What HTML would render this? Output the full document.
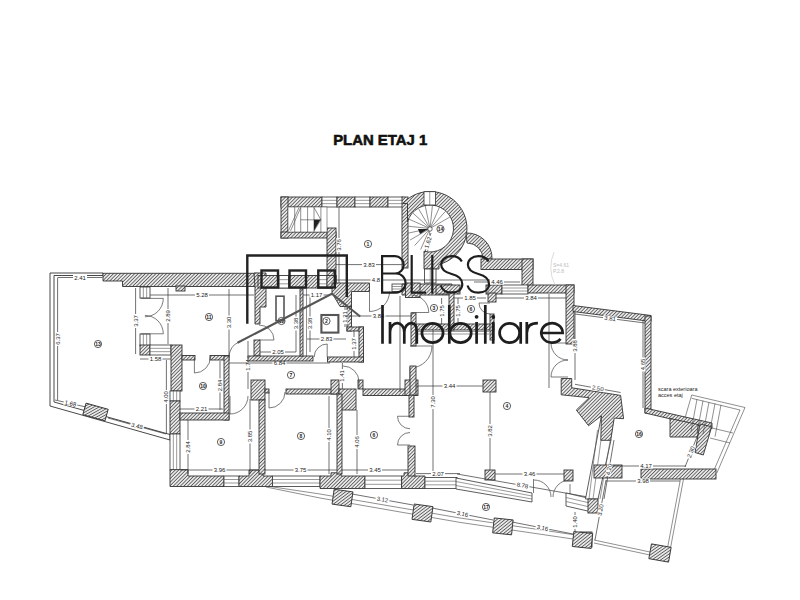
<!DOCTYPE html>
<html><head><meta charset="utf-8"><style>
html,body{margin:0;padding:0;background:#fff;}
svg{display:block;}
.w{fill:url(#h);stroke:#333;stroke-width:0.9;}
.win{fill:#fff;stroke:#333;stroke-width:0.8;}
.wl{stroke:#555;stroke-width:0.6;}
.ln{stroke:#444;stroke-width:0.6;fill:none;}
.dm{stroke:#333;stroke-width:0.7;}
.dr{stroke:#444;stroke-width:0.7;fill:none;}
.dt{font-family:"Liberation Sans",sans-serif;font-size:6px;fill:#222;text-anchor:middle;}
.lc{fill:#fff;stroke:#333;stroke-width:0.8;}
.lt{font-family:"Liberation Sans",sans-serif;font-size:5px;font-weight:bold;fill:#222;text-anchor:middle;}
.tx{font-family:"Liberation Sans",sans-serif;font-size:5.5px;fill:#222;}
.fx{font-family:"Liberation Sans",sans-serif;font-size:5px;fill:#bbb;}
.title{font-family:"Liberation Sans",sans-serif;font-weight:bold;font-size:15px;fill:#111;stroke:#111;stroke-width:0.6;}
</style></head><body>
<svg width="800" height="600" viewBox="0 0 800 600">
<defs><pattern id="h" width="2.5" height="2.5" patternUnits="userSpaceOnUse" patternTransform="rotate(45)"><rect width="2.5" height="2.5" fill="#fff"/><line x1="1.25" y1="0" x2="1.25" y2="2.5" stroke="#5a5a5a" stroke-width="1.05"/></pattern></defs>
<rect width="800" height="600" fill="#fff"/>
<text x="333.2" y="145" class="title" textLength="94" lengthAdjust="spacingAndGlyphs">PLAN ETAJ 1</text>
<rect x="281" y="197" width="41" height="10" class="w"/>
<rect x="322" y="197" width="15" height="10" class="win"/>
<line x1="322" y1="200.33" x2="337" y2="200.33" class="wl"/>
<line x1="322" y1="203.67" x2="337" y2="203.67" class="wl"/>
<rect x="337" y="197" width="18" height="10" class="w"/>
<rect x="355" y="197" width="15" height="10" class="win"/>
<line x1="355" y1="200.33" x2="370" y2="200.33" class="wl"/>
<line x1="355" y1="203.67" x2="370" y2="203.67" class="wl"/>
<rect x="370" y="197" width="18" height="10" class="w"/>
<rect x="388" y="197" width="15" height="10" class="win"/>
<line x1="388" y1="200.33" x2="403" y2="200.33" class="wl"/>
<line x1="388" y1="203.67" x2="403" y2="203.67" class="wl"/>
<rect x="281" y="197" width="7" height="41" class="w"/>
<rect x="281" y="232" width="55" height="6" class="w"/>
<rect x="327" y="228" width="9" height="55" class="w"/>
<rect x="402" y="197" width="6" height="71" class="w"/>
<rect x="288" y="207" width="39" height="25" fill="#fff" stroke="#555" stroke-width="0.6"/>
<line x1="294.7" y1="207" x2="294.7" y2="232" class="ln"/>
<line x1="300.7" y1="207" x2="300.7" y2="232" class="ln"/>
<line x1="307.6" y1="207" x2="307.6" y2="232" class="ln"/>
<line x1="314" y1="207" x2="314" y2="232" class="ln"/>
<line x1="320.9" y1="207" x2="320.9" y2="232" class="ln"/>
<line x1="300.7" y1="219.8" x2="320.9" y2="219.8" class="ln"/>
<polyline points="288.5,230.5 299,207.5" class="ln"/>
<polyline points="290.5,231 300.5,208" class="ln"/>
<polygon points="314,219.8 320.4,219.8 314,230.8" fill="#222"/>
<polyline points="314,207.5 320.9,219.8 314,231" class="ln"/>
<circle cx="368" cy="244" r="3.6" class="lc"/><text x="368" y="245.7" class="lt">1</text>
<line x1="339" y1="207" x2="339" y2="283" class="dm"/>
<g transform="translate(339.00 245.00) rotate(-90.0)"><rect x="-7.0" y="-2.6" width="14.0" height="5.2" fill="#fff"/><text x="0" y="2" class="dt">3.76</text></g>
<line x1="336" y1="264.6" x2="402" y2="264.6" class="dm"/>
<g transform="translate(369.00 264.60) rotate(0.0)"><rect x="-7.0" y="-2.6" width="14.0" height="5.2" fill="#fff"/><text x="0" y="2" class="dt">3.83</text></g>
<path d="M402.7,203.5 A37,37 0 1 1 439,264.4 L439,269 L424,269 L424,251.2 A23.5,23.5 0 1 0 407.5,221.7 L407.5,203.5 Z" class="w"/>
<rect x="424" y="191.7" width="11.5" height="13.3" class="win"/>
<line x1="429.75" y1="191.7" x2="429.75" y2="205" class="wl"/>
<rect x="424.5" y="269" width="11.5" height="14" class="win"/>
<line x1="430.25" y1="269" x2="430.25" y2="283" class="wl"/>
<line x1="430" y1="228.5" x2="427.6" y2="251.37" class="ln"/>
<line x1="430" y1="228.5" x2="420.65" y2="249.51" class="ln"/>
<line x1="430" y1="228.5" x2="414.61" y2="245.59" class="ln"/>
<line x1="430" y1="228.5" x2="410.08" y2="240.0" class="ln"/>
<line x1="430" y1="228.5" x2="407.5" y2="233.28" class="ln"/>
<line x1="430" y1="228.5" x2="407.13" y2="226.1" class="ln"/>
<line x1="430" y1="228.5" x2="408.99" y2="219.15" class="ln"/>
<line x1="430" y1="228.5" x2="412.91" y2="213.11" class="ln"/>
<line x1="430" y1="228.5" x2="418.5" y2="208.58" class="ln"/>
<line x1="430" y1="228.5" x2="425.22" y2="206.0" class="ln"/>
<line x1="430" y1="228.5" x2="432.4" y2="205.63" class="ln"/>
<line x1="430" y1="228.5" x2="439.35" y2="207.49" class="ln"/>
<line x1="430" y1="228.5" x2="445.39" y2="211.41" class="ln"/>
<line x1="430" y1="228.5" x2="449.92" y2="217.0" class="ln"/>
<circle cx="430" cy="229" r="2.2" fill="#fff" stroke="#333" stroke-width="0.7"/>
<polygon points="418,229 428,229 420,234" fill="#222"/>
<circle cx="440.5" cy="229" r="3.6" class="lc"/><text x="440.5" y="230.7" class="lt">14</text>
<line x1="431" y1="233" x2="425" y2="252" class="dm"/>
<g transform="translate(428.00 242.50) rotate(287.5)"><rect x="-7.0" y="-2.6" width="14.0" height="5.2" fill="#fff"/><text x="0" y="2" class="dt">1.62</text></g>
<path d="M466,233 A25,25 0 0 1 492,259 L483,259 A16,16 0 0 0 467,243 Z" class="w"/>
<rect x="481" y="259" width="52" height="10.5" class="w"/>
<rect x="522" y="259" width="11" height="27" class="w"/>
<path d="M50,273 L103,273 L103,275.5 L54,275.5 L54,402 L170,434.5 L170,440 L50,406 Z" fill="#fff" stroke="#333" stroke-width="0.9"/>
<polygon points="103,273.3 258,273.3 258,286.5 122.5,286.5 122.5,281 103,281" class="w"/>
<rect x="176" y="286" width="9" height="5" class="w"/>
<polygon points="254,273 266,273 266,307 260,307 260,324 255,324 255,287" class="w"/>
<rect x="258" y="275.5" width="78" height="12.5" class="w"/>
<rect x="279" y="275.5" width="9.5" height="12.5" class="win"/>
<line x1="279" y1="279.67" x2="288.5" y2="279.67" class="wl"/>
<line x1="279" y1="283.83" x2="288.5" y2="283.83" class="wl"/>
<rect x="318" y="275.5" width="9" height="12.5" class="win"/>
<line x1="318" y1="279.67" x2="327" y2="279.67" class="wl"/>
<line x1="318" y1="283.83" x2="327" y2="283.83" class="wl"/>
<rect x="327" y="275.5" width="9" height="12.5" class="w"/>
<polygon points="332,283 369.5,283 369.5,291.5 351.5,291.5 351.5,306.5 340,306.5 332,293" class="w"/>
<rect x="347" y="306.5" width="4.5" height="24.5" class="w"/>
<rect x="347" y="327" width="16.5" height="4" class="w"/>
<rect x="359" y="327" width="4.5" height="35" class="w"/>
<rect x="327.5" y="357" width="36.0" height="5" class="w"/>
<rect x="392" y="284" width="13.5" height="7.5" class="win"/>
<line x1="392" y1="286.50" x2="405.5" y2="286.50" class="wl"/>
<line x1="392" y1="289.00" x2="405.5" y2="289.00" class="wl"/>
<polygon points="402,284 452,284 452,295 402,295" class="w"/>
<rect x="405.5" y="283" width="14.5" height="14.5" class="w"/>
<rect x="436" y="285" width="24" height="9" class="w"/>
<rect x="486" y="285" width="16" height="9" class="w"/>
<rect x="502" y="285" width="26" height="9" class="win"/>
<line x1="502" y1="288.00" x2="528" y2="288.00" class="wl"/>
<line x1="502" y1="291.00" x2="528" y2="291.00" class="wl"/>
<rect x="528" y="285" width="46" height="8" class="w"/>
<rect x="488" y="293" width="8" height="9" class="w"/>
<rect x="566" y="285" width="8" height="59" class="w"/>
<rect x="84.0" y="406.0" width="23" height="12" class="w" transform="rotate(15.6 95.5 412)"/>
<rect x="140" y="287" width="10" height="11" class="win"/>
<line x1="143.33" y1="287" x2="143.33" y2="298" class="wl"/>
<line x1="146.67" y1="287" x2="146.67" y2="298" class="wl"/>
<rect x="140" y="334" width="10" height="12" class="win"/>
<line x1="143.33" y1="334" x2="143.33" y2="346" class="wl"/>
<line x1="146.67" y1="334" x2="146.67" y2="346" class="wl"/>
<rect x="140" y="345" width="10" height="10" class="w"/>
<rect x="150" y="345" width="21" height="10" class="win"/>
<line x1="150" y1="348.33" x2="171" y2="348.33" class="wl"/>
<line x1="150" y1="351.67" x2="171" y2="351.67" class="wl"/>
<path d="M144.90,316.80 A18.4,18.4 0 0 0 163.30,298.40" class="dr"/>
<path d="M144.90,315.40 A18.4,18.4 0 0 1 163.30,333.80" class="dr"/>
<line x1="140.6" y1="298.4" x2="163.3" y2="298.4" class="dr"/>
<line x1="140.6" y1="333.8" x2="163.3" y2="333.8" class="dr"/>
<line x1="57.5" y1="277.5" x2="102.5" y2="277.5" class="dm"/>
<g transform="translate(80.00 277.50) rotate(0.0)"><rect x="-7.0" y="-2.6" width="14.0" height="5.2" fill="#fff"/><text x="0" y="2" class="dt">2.41</text></g>
<line x1="57.6" y1="278" x2="57.6" y2="400" class="dm"/>
<g transform="translate(57.60 339.00) rotate(-90.0)"><rect x="-7.0" y="-2.6" width="14.0" height="5.2" fill="#fff"/><text x="0" y="2" class="dt">6.37</text></g>
<line x1="55" y1="400" x2="86" y2="407" class="dm"/>
<g transform="translate(70.50 403.50) rotate(12.7)"><rect x="-7.0" y="-2.6" width="14.0" height="5.2" fill="#fff"/><text x="0" y="2" class="dt">1.68</text></g>
<line x1="108" y1="418" x2="166" y2="434" class="dm"/>
<g transform="translate(137.00 426.00) rotate(15.4)"><rect x="-7.0" y="-2.6" width="14.0" height="5.2" fill="#fff"/><text x="0" y="2" class="dt">3.48</text></g>
<circle cx="98" cy="344" r="3.6" class="lc"/><text x="98" y="345.7" class="lt">13</text>
<line x1="135.6" y1="288" x2="135.6" y2="354" class="dm"/>
<g transform="translate(135.60 321.00) rotate(-90.0)"><rect x="-7.0" y="-2.6" width="14.0" height="5.2" fill="#fff"/><text x="0" y="2" class="dt">3.37</text></g>
<line x1="168" y1="288" x2="168" y2="344" class="dm"/>
<g transform="translate(168.00 316.00) rotate(-90.0)"><rect x="-7.0" y="-2.6" width="14.0" height="5.2" fill="#fff"/><text x="0" y="2" class="dt">2.89</text></g>
<line x1="140" y1="359" x2="171" y2="359" class="dm"/>
<g transform="translate(155.50 359.00) rotate(0.0)"><rect x="-7.0" y="-2.6" width="14.0" height="5.2" fill="#fff"/><text x="0" y="2" class="dt">1.58</text></g>
<rect x="171" y="345" width="11" height="46" class="w"/>
<rect x="182" y="355.5" width="13" height="4.5" class="w"/>
<rect x="210" y="355.5" width="19" height="4.5" class="w"/>
<path d="M194.40,373.00 A16,16 0 0 0 210.40,357.00" class="dr"/>
<line x1="194.4" y1="357" x2="194.40" y2="373.00" class="dr"/>
<rect x="224" y="356" width="5" height="64" class="w"/>
<circle cx="209" cy="317" r="3.6" class="lc"/><text x="209" y="318.7" class="lt">11</text>
<line x1="150" y1="295" x2="254" y2="295" class="dm"/>
<g transform="translate(202.00 295.00) rotate(0.0)"><rect x="-7.0" y="-2.6" width="14.0" height="5.2" fill="#fff"/><text x="0" y="2" class="dt">5.28</text></g>
<line x1="229" y1="289" x2="229" y2="356" class="dm"/>
<g transform="translate(229.00 322.50) rotate(-90.0)"><rect x="-7.0" y="-2.6" width="14.0" height="5.2" fill="#fff"/><text x="0" y="2" class="dt">3.30</text></g>
<line x1="166.4" y1="360" x2="166.4" y2="434" class="dm"/>
<g transform="translate(166.40 397.00) rotate(-90.0)"><rect x="-7.0" y="-2.6" width="14.0" height="5.2" fill="#fff"/><text x="0" y="2" class="dt">4.00</text></g>
<rect x="170" y="391" width="10" height="10" class="win"/>
<line x1="173.33" y1="391" x2="173.33" y2="401" class="wl"/>
<line x1="176.67" y1="391" x2="176.67" y2="401" class="wl"/>
<rect x="170" y="401" width="10" height="33" class="w"/>
<rect x="170" y="434" width="10" height="36" class="win"/>
<line x1="173.33" y1="434" x2="173.33" y2="470" class="wl"/>
<line x1="176.67" y1="434" x2="176.67" y2="470" class="wl"/>
<rect x="180" y="413" width="49" height="7" class="w"/>
<circle cx="203" cy="386" r="3.6" class="lc"/><text x="203" y="387.7" class="lt">10</text>
<line x1="180" y1="409" x2="223" y2="409" class="dm"/>
<g transform="translate(201.50 409.00) rotate(0.0)"><rect x="-7.0" y="-2.6" width="14.0" height="5.2" fill="#fff"/><text x="0" y="2" class="dt">2.21</text></g>
<line x1="220" y1="361" x2="220" y2="410" class="dm"/>
<g transform="translate(220.00 385.50) rotate(-90.0)"><rect x="-7.0" y="-2.6" width="14.0" height="5.2" fill="#fff"/><text x="0" y="2" class="dt">2.84</text></g>
<circle cx="221" cy="442" r="3.6" class="lc"/><text x="221" y="443.7" class="lt">9</text>
<polygon points="170,469.6 188,469.6 188,476 224,476 224,486.5 170,486.5" class="w"/>
<rect x="224" y="476" width="15" height="10.5" class="win"/>
<line x1="224" y1="479.50" x2="239" y2="479.50" class="wl"/>
<line x1="224" y1="483.00" x2="239" y2="483.00" class="wl"/>
<polygon points="239,476 249,476 249,470 263,470 263,476 272.5,476 272.5,486.5 239,486.5" class="w"/>
<rect x="272.5" y="476" width="47.5" height="10.5" class="win"/>
<line x1="272.5" y1="479.50" x2="320" y2="479.50" class="wl"/>
<line x1="272.5" y1="483.00" x2="320" y2="483.00" class="wl"/>
<polygon points="320,476 331,476 331,472.8 341,472.8 341,476 365,476 365,488.5 320,488.5" class="w"/>
<rect x="365" y="476" width="36.6" height="12.5" class="win"/>
<line x1="365" y1="480.17" x2="401.6" y2="480.17" class="wl"/>
<line x1="365" y1="484.33" x2="401.6" y2="484.33" class="wl"/>
<polygon points="401.6,476 404,476 404,472.8 414,472.8 414,476 425,476 425,488.5 401.6,488.5" class="w"/>
<rect x="425" y="477.5" width="32" height="11.0" class="win"/>
<line x1="425" y1="481.17" x2="457" y2="481.17" class="wl"/>
<line x1="425" y1="484.83" x2="457" y2="484.83" class="wl"/>
<line x1="188" y1="420" x2="188" y2="474" class="dm"/>
<g transform="translate(188.00 447.00) rotate(-90.0)"><rect x="-7.0" y="-2.6" width="14.0" height="5.2" fill="#fff"/><text x="0" y="2" class="dt">2.84</text></g>
<line x1="180" y1="470" x2="259" y2="470" class="dm"/>
<g transform="translate(219.50 470.00) rotate(0.0)"><rect x="-7.0" y="-2.6" width="14.0" height="5.2" fill="#fff"/><text x="0" y="2" class="dt">3.96</text></g>
<line x1="250" y1="399" x2="250" y2="474" class="dm"/>
<g transform="translate(250.00 436.50) rotate(-90.0)"><rect x="-7.0" y="-2.6" width="14.0" height="5.2" fill="#fff"/><text x="0" y="2" class="dt">3.85</text></g>
<path d="M230.00,414.00 A18,18 0 0 0 248.00,396.00" class="dr"/>
<line x1="230" y1="396" x2="230.00" y2="414.00" class="dr"/>
<rect x="251" y="380" width="14" height="20" class="w"/>
<rect x="259" y="400" width="6" height="74" class="w"/>
<rect x="265" y="389" width="4" height="4" class="w"/>
<path d="M269.00,408.00 A16,16 0 0 0 285.00,392.00" class="dr"/>
<line x1="269" y1="392" x2="269.00" y2="408.00" class="dr"/>
<rect x="286" y="389" width="53" height="5" class="w"/>
<rect x="331" y="380" width="8" height="14" class="w"/>
<rect x="339" y="389" width="17" height="21" class="w"/>
<rect x="337" y="394" width="5" height="80" class="w"/>
<rect x="358" y="380" width="5" height="9" class="w"/>
<rect x="363" y="389" width="48" height="6.5" class="w"/>
<rect x="405" y="380" width="13" height="15.5" class="w"/>
<rect x="409" y="395" width="5" height="22" class="w"/>
<rect x="410" y="367" width="4" height="13" class="win"/>
<line x1="412.00" y1="367" x2="412.00" y2="380" class="wl"/>
<path d="M343.00,366.00 A16,16 0 0 1 359.00,382.00" class="dr"/>
<line x1="359" y1="382" x2="359" y2="389" class="dr"/>
<circle cx="291" cy="375" r="3.6" class="lc"/><text x="291" y="376.7" class="lt">7</text>
<line x1="248" y1="341" x2="248" y2="389" class="dm"/>
<g transform="translate(248.00 365.00) rotate(-90.0)"><rect x="-7.0" y="-2.6" width="14.0" height="5.2" fill="#fff"/><text x="0" y="2" class="dt">1.74</text></g>
<line x1="342.4" y1="363" x2="342.4" y2="389" class="dm"/>
<g transform="translate(342.40 376.00) rotate(-90.0)"><rect x="-7.0" y="-2.6" width="14.0" height="5.2" fill="#fff"/><text x="0" y="2" class="dt">1.41</text></g>
<line x1="229" y1="363" x2="330" y2="363" class="dm"/>
<g transform="translate(279.50 363.00) rotate(0.0)"><rect x="-7.0" y="-2.6" width="14.0" height="5.2" fill="#fff"/><text x="0" y="2" class="dt">6.84</text></g>
<circle cx="301" cy="436" r="3.6" class="lc"/><text x="301" y="437.7" class="lt">8</text>
<line x1="264" y1="470" x2="337" y2="470" class="dm"/>
<g transform="translate(300.50 470.00) rotate(0.0)"><rect x="-7.0" y="-2.6" width="14.0" height="5.2" fill="#fff"/><text x="0" y="2" class="dt">3.75</text></g>
<line x1="329" y1="396" x2="329" y2="474" class="dm"/>
<g transform="translate(329.00 435.00) rotate(-90.0)"><rect x="-7.0" y="-2.6" width="14.0" height="5.2" fill="#fff"/><text x="0" y="2" class="dt">4.10</text></g>
<rect x="408" y="446" width="7" height="30" class="w"/>
<path d="M397.50,416.25 A12.5,12.5 0 0 0 410.00,428.75" class="dr"/>
<line x1="410" y1="416.25" x2="397.50" y2="416.25" class="dr"/>
<path d="M397.50,445.00 A12.5,12.5 0 0 1 410.00,432.50" class="dr"/>
<line x1="410" y1="445" x2="397.50" y2="445.00" class="dr"/>
<circle cx="374" cy="435" r="3.6" class="lc"/><text x="374" y="436.7" class="lt">6</text>
<line x1="357" y1="410" x2="357" y2="474" class="dm"/>
<g transform="translate(357.00 442.00) rotate(-90.0)"><rect x="-7.0" y="-2.6" width="14.0" height="5.2" fill="#fff"/><text x="0" y="2" class="dt">4.06</text></g>
<line x1="342" y1="470" x2="408" y2="470" class="dm"/>
<g transform="translate(375.00 470.00) rotate(0.0)"><rect x="-7.0" y="-2.6" width="14.0" height="5.2" fill="#fff"/><text x="0" y="2" class="dt">3.45</text></g>
<rect x="254" y="340" width="6" height="16" class="w"/>
<path d="M274.00,340.00 A15,15 0 0 0 259.00,325.00" class="dr"/>
<line x1="259" y1="340" x2="274.00" y2="340.00" class="dr"/>
<rect x="248" y="356" width="65" height="5" class="w"/>
<rect x="300" y="289" width="3" height="67" class="w"/>
<line x1="306.5" y1="289" x2="306.5" y2="356" class="ln"/>
<path d="M327.20,344.00 A13,13 0 0 0 314.20,357.00" class="dr"/>
<line x1="327.2" y1="357" x2="327.20" y2="344.00" class="dr"/>
<circle cx="326.5" cy="321" r="3.6" class="lc"/><text x="326.5" y="322.7" class="lt">2</text>
<circle cx="281.5" cy="321" r="3.6" class="lc"/><text x="281.5" y="322.7" class="lt">12</text>
<line x1="260" y1="352" x2="296" y2="352" class="dm"/>
<g transform="translate(278.00 352.00) rotate(0.0)"><rect x="-7.0" y="-2.6" width="14.0" height="5.2" fill="#fff"/><text x="0" y="2" class="dt">2.05</text></g>
<line x1="307" y1="339" x2="346" y2="339" class="dm"/>
<g transform="translate(326.50 339.00) rotate(0.0)"><rect x="-7.0" y="-2.6" width="14.0" height="5.2" fill="#fff"/><text x="0" y="2" class="dt">2.83</text></g>
<line x1="296" y1="295" x2="296" y2="352" class="dm"/>
<g transform="translate(296.00 323.50) rotate(-90.0)"><rect x="-7.0" y="-2.6" width="14.0" height="5.2" fill="#fff"/><text x="0" y="2" class="dt">3.38</text></g>
<line x1="310" y1="295" x2="310" y2="352" class="dm"/>
<g transform="translate(310.00 323.50) rotate(-90.0)"><rect x="-7.0" y="-2.6" width="14.0" height="5.2" fill="#fff"/><text x="0" y="2" class="dt">3.38</text></g>
<line x1="303" y1="295" x2="330" y2="295" class="dm"/>
<g transform="translate(316.50 295.00) rotate(0.0)"><rect x="-7.0" y="-2.6" width="14.0" height="5.2" fill="#fff"/><text x="0" y="2" class="dt">1.17</text></g>
<line x1="345" y1="307" x2="345" y2="327" class="dm"/>
<g transform="translate(345.00 317.00) rotate(-90.0)"><rect x="-7.0" y="-2.6" width="14.0" height="5.2" fill="#fff"/><text x="0" y="2" class="dt">1.21</text></g>
<line x1="354" y1="331" x2="354" y2="357" class="dm"/>
<g transform="translate(354.00 344.00) rotate(-90.0)"><rect x="-7.0" y="-2.6" width="14.0" height="5.2" fill="#fff"/><text x="0" y="2" class="dt">1.37</text></g>
<line x1="336" y1="280" x2="490" y2="280" class="dm"/>
<g transform="translate(376.04 280.00) rotate(0.0)"><rect x="-5.5" y="-2.6" width="11.0" height="5.2" fill="#fff"/><text x="0" y="2" class="dt">4.8</text></g>
<path d="M369.50,311.50 A20,20 0 0 0 389.50,291.50" class="dr"/>
<line x1="369.5" y1="291.5" x2="369.50" y2="311.50" class="dr"/>
<path d="M428.75,312.50 A17.5,17.5 0 0 0 411.25,295.00" class="dr"/>
<line x1="411.25" y1="312.5" x2="428.75" y2="312.50" class="dr"/>
<path d="M479.00,303.00 A11,11 0 0 0 490.00,314.00" class="dr"/>
<line x1="490" y1="303" x2="479.00" y2="303.00" class="dr"/>
<line x1="416" y1="331.5" x2="489" y2="331.5" class="wl"/>
<line x1="416" y1="334" x2="489" y2="334" class="wl"/>
<rect x="411" y="313" width="5" height="33" class="w"/>
<rect x="416" y="324" width="78" height="6" class="w"/>
<rect x="449" y="292" width="5" height="38" class="w"/>
<rect x="490" y="314" width="4" height="26" class="w"/>
<path d="M432.00,346.00 A22,22 0 0 1 410.00,368.00" class="dr"/>
<line x1="410" y1="346" x2="432" y2="346" class="dr"/>
<rect x="410" y="366" width="6" height="29" class="w"/>
<circle cx="434" cy="308" r="3.6" class="lc"/><text x="434" y="309.7" class="lt">3</text>
<circle cx="471" cy="309" r="3.6" class="lc"/><text x="471" y="310.7" class="lt">6</text>
<line x1="441.6" y1="298" x2="441.6" y2="324" class="dm"/>
<g transform="translate(441.60 311.00) rotate(-90.0)"><rect x="-7.0" y="-2.6" width="14.0" height="5.2" fill="#fff"/><text x="0" y="2" class="dt">1.75</text></g>
<line x1="458" y1="298" x2="458" y2="324" class="dm"/>
<g transform="translate(458.00 311.00) rotate(-90.0)"><rect x="-7.0" y="-2.6" width="14.0" height="5.2" fill="#fff"/><text x="0" y="2" class="dt">1.75</text></g>
<line x1="454" y1="298" x2="486" y2="298" class="dm"/>
<g transform="translate(470.00 298.00) rotate(0.0)"><rect x="-7.0" y="-2.6" width="14.0" height="5.2" fill="#fff"/><text x="0" y="2" class="dt">1.85</text></g>
<line x1="496" y1="298" x2="566" y2="298" class="dm"/>
<g transform="translate(531.00 298.00) rotate(0.0)"><rect x="-7.0" y="-2.6" width="14.0" height="5.2" fill="#fff"/><text x="0" y="2" class="dt">3.84</text></g>
<line x1="474" y1="282" x2="520" y2="282" class="dm"/>
<g transform="translate(497.00 282.00) rotate(0.0)"><rect x="-7.0" y="-2.6" width="14.0" height="5.2" fill="#fff"/><text x="0" y="2" class="dt">4.46</text></g>
<line x1="345" y1="316" x2="412" y2="316" class="dm"/>
<g transform="translate(378.50 316.00) rotate(0.0)"><rect x="-7.0" y="-2.6" width="14.0" height="5.2" fill="#fff"/><text x="0" y="2" class="dt">3.84</text></g>
<line x1="400" y1="296" x2="400" y2="392" class="dm"/>
<line x1="433" y1="330" x2="433" y2="474" class="dm"/>
<g transform="translate(433.00 402.00) rotate(-90.0)"><rect x="-7.0" y="-2.6" width="14.0" height="5.2" fill="#fff"/><text x="0" y="2" class="dt">7.30</text></g>
<line x1="416" y1="386" x2="483" y2="386" class="dm"/>
<g transform="translate(449.50 386.00) rotate(0.0)"><rect x="-7.0" y="-2.6" width="14.0" height="5.2" fill="#fff"/><text x="0" y="2" class="dt">3.44</text></g>
<line x1="549" y1="294" x2="549" y2="388" class="dm"/>
<rect x="483" y="380" width="13" height="12" class="w"/>
<rect x="485" y="470" width="10" height="10" class="w"/>
<rect x="564" y="470" width="9" height="11" class="w"/>
<circle cx="507" cy="406" r="3.6" class="lc"/><text x="507" y="407.7" class="lt">4</text>
<line x1="490" y1="392" x2="490" y2="470" class="dm"/>
<g transform="translate(490.00 431.00) rotate(-90.0)"><rect x="-7.0" y="-2.6" width="14.0" height="5.2" fill="#fff"/><text x="0" y="2" class="dt">3.82</text></g>
<line x1="495" y1="474" x2="564" y2="474" class="dm"/>
<g transform="translate(529.50 474.00) rotate(0.0)"><rect x="-7.0" y="-2.6" width="14.0" height="5.2" fill="#fff"/><text x="0" y="2" class="dt">3.46</text></g>
<line x1="416" y1="473.6" x2="460" y2="473.6" class="dm"/>
<g transform="translate(438.00 473.60) rotate(0.0)"><rect x="-7.0" y="-2.6" width="14.0" height="5.2" fill="#fff"/><text x="0" y="2" class="dt">2.07</text></g>
<path d="M456,478 L532,493 L532,502 L456,489 Z" fill="#fff" stroke="#333" stroke-width="0.8"/>
<line x1="456" y1="481.5" x2="532" y2="496" class="wl"/>
<line x1="456" y1="485.5" x2="532" y2="499" class="wl"/>
<line x1="457" y1="474" x2="588" y2="497" class="dm"/>
<g transform="translate(522.50 485.50) rotate(10.0)"><rect x="-7.0" y="-2.6" width="14.0" height="5.2" fill="#fff"/><text x="0" y="2" class="dt">8.78</text></g>
<path d="M534.00,480.00 A17,17 0 0 1 551.00,497.00" class="dr"/>
<path d="M570.00,480.00 A17,17 0 0 0 553.00,497.00" class="dr"/>
<line x1="533.5" y1="479" x2="533.5" y2="493" class="dr"/>
<line x1="570" y1="484" x2="570" y2="495" class="dr"/>
<path d="M566,493 L592,499 L592,512 L566,506 Z" fill="#fff" stroke="#333" stroke-width="0.8"/>
<line x1="566" y1="497.5" x2="592" y2="503.5" class="wl"/>
<line x1="566" y1="501.5" x2="592" y2="507.5" class="wl"/>
<path d="M551.00,343.00 A17,17 0 0 0 568.00,360.00" class="dr"/>
<line x1="568" y1="343" x2="551.00" y2="343.00" class="dr"/>
<path d="M551.00,377.00 A17,17 0 0 1 568.00,360.00" class="dr"/>
<line x1="568" y1="377" x2="551.00" y2="377.00" class="dr"/>
<path d="M601.4,415.8 L611,440 L598,499 L585.5,499 Z" fill="#fff" stroke="#333" stroke-width="0.8"/>
<line x1="597.5" y1="430" x2="589" y2="499" class="wl"/>
<line x1="601" y1="440" x2="593" y2="499" class="wl"/>
<line x1="612" y1="430" x2="600" y2="499" class="wl"/>
<polygon points="561.2,378.5 571.7,378.5 571.7,387.8 620.6,395.4 623.6,418.7 614.2,418.1 610.7,440.3 600.8,440.3 601.4,415.8 588.6,425.7 576.3,410 589.2,397.7 561.2,394.8" class="w"/>
<rect x="594" y="465" width="28" height="13" class="w"/>
<rect x="588" y="499" width="10" height="14" class="w"/>
<polygon points="573,305.5 651,315.5 651,321.5 573,311.5" class="w"/>
<rect x="645" y="316" width="6" height="97" class="w"/>
<line x1="575" y1="314" x2="645" y2="323" class="dm"/>
<g transform="translate(610.00 318.50) rotate(7.3)"><rect x="-7.0" y="-2.6" width="14.0" height="5.2" fill="#fff"/><text x="0" y="2" class="dt">3.81</text></g>
<line x1="643" y1="321" x2="643" y2="408" class="dm"/>
<g transform="translate(643.00 364.50) rotate(-90.0)"><rect x="-7.0" y="-2.6" width="14.0" height="5.2" fill="#fff"/><text x="0" y="2" class="dt">4.65</text></g>
<line x1="575" y1="312" x2="575" y2="380" class="dm"/>
<g transform="translate(575.00 346.00) rotate(-90.0)"><rect x="-7.0" y="-2.6" width="14.0" height="5.2" fill="#fff"/><text x="0" y="2" class="dt">3.88</text></g>
<line x1="575" y1="384.3" x2="620.6" y2="392.5" class="dm"/>
<g transform="translate(597.80 388.40) rotate(10.2)"><rect x="-7.0" y="-2.6" width="14.0" height="5.2" fill="#fff"/><text x="0" y="2" class="dt">2.50</text></g>
<text x="658" y="390.5" class="tx">scara exterioara</text>
<text x="658" y="397" class="tx">acces etaj</text>
<polygon points="645,408 712,423 712,428.5 645,413" class="w"/>
<polygon points="670,418.5 698,424.5 698,437 670,437" class="w"/>
<polygon points="700,424 711.7,426.7 703.3,455 695,452.5" class="w"/>
<polyline points="685,418 691.7,395 745,407.5 716.7,473.3" class="ln"/>
<polyline points="691.7,398.3 740,410 713.3,471.7" class="ln"/>
<line x1="697" y1="399.24" x2="691" y2="431.44" class="ln"/>
<line x1="703" y1="400.65" x2="697" y2="432.76" class="ln"/>
<line x1="709" y1="402.06" x2="703" y2="434.08" class="ln"/>
<line x1="715" y1="403.47" x2="709" y2="435.4" class="ln"/>
<line x1="721" y1="404.87" x2="715" y2="436.72" class="ln"/>
<line x1="712" y1="428" x2="733" y2="433" class="ln"/>
<line x1="710" y1="438" x2="730" y2="443" class="ln"/>
<rect x="641" y="469" width="75" height="10" class="w"/>
<circle cx="639" cy="434" r="3.6" class="lc"/><text x="639" y="435.7" class="lt">16</text>
<line x1="606" y1="466" x2="686" y2="466" class="dm"/>
<g transform="translate(646.00 466.00) rotate(0.0)"><rect x="-7.0" y="-2.6" width="14.0" height="5.2" fill="#fff"/><text x="0" y="2" class="dt">4.17</text></g>
<line x1="606" y1="481" x2="680" y2="481" class="dm"/>
<g transform="translate(643.00 481.00) rotate(0.0)"><rect x="-7.0" y="-2.6" width="14.0" height="5.2" fill="#fff"/><text x="0" y="2" class="dt">3.98</text></g>
<line x1="685" y1="467" x2="697" y2="437" class="dm"/>
<g transform="translate(691.00 452.00) rotate(-68.2)"><rect x="-7.0" y="-2.6" width="14.0" height="5.2" fill="#fff"/><text x="0" y="2" class="dt">2.30</text></g>
<polyline points="680.5,479 667.5,548" class="ln"/>
<polyline points="683.5,479 670.5,548" class="ln"/>
<rect x="650.0" y="545.5" width="20" height="15" class="w" transform="rotate(10 660 553)"/>
<polyline points="594,540 650,552" class="ln"/>
<polyline points="594,543 650,555" class="ln"/>
<line x1="606" y1="480" x2="595" y2="540" class="dm"/>
<g transform="translate(600.50 510.00) rotate(280.4)"><rect x="-7.0" y="-2.6" width="14.0" height="5.2" fill="#fff"/><text x="0" y="2" class="dt">3.20</text></g>
<line x1="614" y1="440" x2="604" y2="499" class="dm"/>
<g transform="translate(609.00 469.50) rotate(279.6)"><rect x="-7.0" y="-2.6" width="14.0" height="5.2" fill="#fff"/><text x="0" y="2" class="dt">4.20</text></g>
<rect x="580" y="532" width="12" height="15" class="w"/>
<polyline points="270,486.5 320,494 460,518 573,534.6 592,537.5" class="ln"/>
<polyline points="266,487 320,498 460,522.4 573,539 592,542" class="ln"/>
<rect x="333.0" y="490.5" width="19" height="15" class="w" transform="rotate(8 342.5 498)"/>
<rect x="413.0" y="505.25" width="19" height="15.5" class="w" transform="rotate(8 422.5 513)"/>
<rect x="493.4" y="518.9" width="19" height="15" class="w" transform="rotate(6 502.9 526.4)"/>
<rect x="573.0" y="532.5" width="19" height="15" class="w" transform="rotate(6 582.5 540)"/>
<line x1="352" y1="494" x2="413" y2="505" class="dm"/>
<g transform="translate(382.50 499.50) rotate(10.2)"><rect x="-7.0" y="-2.6" width="14.0" height="5.2" fill="#fff"/><text x="0" y="2" class="dt">3.12</text></g>
<line x1="432" y1="508" x2="493" y2="520" class="dm"/>
<g transform="translate(462.50 514.00) rotate(11.1)"><rect x="-7.0" y="-2.6" width="14.0" height="5.2" fill="#fff"/><text x="0" y="2" class="dt">3.16</text></g>
<line x1="512" y1="522" x2="573" y2="534" class="dm"/>
<g transform="translate(542.50 528.00) rotate(11.1)"><rect x="-7.0" y="-2.6" width="14.0" height="5.2" fill="#fff"/><text x="0" y="2" class="dt">3.16</text></g>
<line x1="575" y1="512" x2="575" y2="532" class="dm"/>
<g transform="translate(575.00 522.00) rotate(-90.0)"><rect x="-7.0" y="-2.6" width="14.0" height="5.2" fill="#fff"/><text x="0" y="2" class="dt">1.40</text></g>
<circle cx="486" cy="507" r="3.6" class="lc"/><text x="486" y="508.7" class="lt">17</text>
<path d="M228.8,357.2 Q230,346 238,342.5" class="dr"/>
<path d="M554,252 A40,40 0 0 0 555,285" fill="none" stroke="#ccc" stroke-width="0.7"/>
<text x="553" y="267" class="fx">S=4.61</text><text x="553" y="273" class="fx">P.2.8</text>
<g fill="none" stroke="#222" stroke-width="2.4">
<polyline points="247.3,323.8 247.3,255.5 346.8,255.5 346.8,297"/>
<rect x="261.5" y="270.5" width="16.5" height="17"/>
<rect x="289.5" y="270.5" width="16.5" height="17"/>
<rect x="318.3" y="270.5" width="16.5" height="17"/>
</g>
<g fill="none" stroke="#555" stroke-width="2.1">
<polyline points="237.5,342.8 331.8,293.8 360.2,316.5"/>
<rect x="276" y="296.2" width="8" height="24.5" stroke-width="1.6"/>
<rect x="321.4" y="315" width="17" height="17.6"/>
</g>
<g fill="none" stroke="#1e1e1e" stroke-width="2.2" stroke-linecap="butt">
<path d="M382.1,255 V293.7 M381,256.1 H395 A8.7,8.7 0 0 1 395,273.5 H382.1 M382.1,273.5 H396 A9.55,9.55 0 0 1 396,292.6 H381"/>
<path d="M411.7,255 V292.6 H426"/>
<path d="M432.3,255 V293.7"/>
<path id="S1" d="M461.8,261.5 C460,258 456.5,256.1 451.7,256.1 C445.5,256.1 441.2,259.8 441.2,264.8 C441.2,270.5 446,272.5 451.7,274 C458,275.6 462.3,278.5 462.3,284 C462.3,289.5 457.8,292.6 451.7,292.6 C446,292.6 442,289.5 440.8,285.5"/>
<path d="M461.8,261.5 C460,258 456.5,256.1 451.7,256.1 C445.5,256.1 441.2,259.8 441.2,264.8 C441.2,270.5 446,272.5 451.7,274 C458,275.6 462.3,278.5 462.3,284 C462.3,289.5 457.8,292.6 451.7,292.6 C446,292.6 442,289.5 440.8,285.5" transform="translate(26.7 0)"/>
</g>
<g fill="none" stroke="#1e1e1e" stroke-width="2.7">
<path d="M382.5,305 V343.75"/>
<path d="M390,322 V343.75 M390,332 C390,326.5 393.5,323.2 397.2,323.2 C401,323.2 404.3,326.5 404.3,332 V343.75 M404.3,332 C404.3,326.5 407.6,323.2 411.3,323.2 C415,323.2 416.8,326.5 416.8,332 V343.75"/>
<ellipse cx="432.5" cy="333" rx="10.6" ry="9.7"/>
<path d="M449.3,305 V343.75"/>
<ellipse cx="460.5" cy="333" rx="10.7" ry="9.7"/>
<path d="M476.6,322 V343.75 M485.3,305 V343.75 M493.2,322 V343.75"/>
<ellipse cx="509.6" cy="333" rx="10" ry="9.7"/>
<path d="M520.7,322 V343.75"/>
<path d="M526.8,322 V343.75 M526.8,333 C526.8,326.5 530.5,323.2 537.9,323.2"/>
<path d="M541.3,333 H562.7 A10.7,9.7 0 1 0 560.5,338.8"/>
</g>
<circle cx="476.6" cy="316.8" r="1.9" fill="#1e1e1e"/>
<circle cx="493.3" cy="317" r="1.9" fill="#1e1e1e"/>
</svg>
</body></html>
